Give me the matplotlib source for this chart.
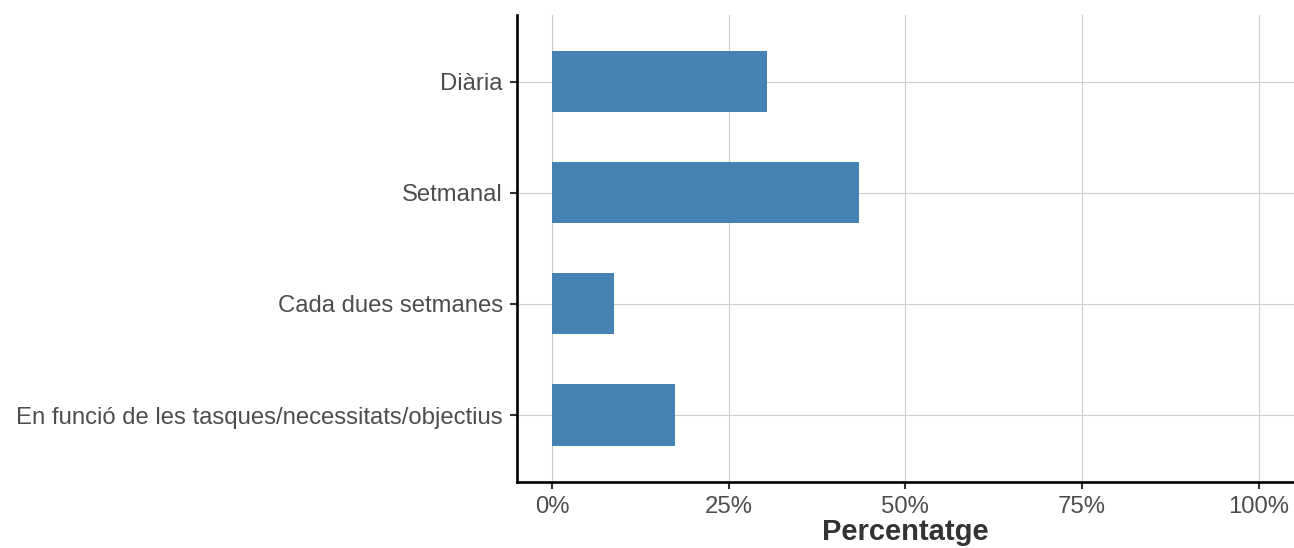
import matplotlib
matplotlib.use("Agg")
from matplotlib import pyplot as plt
from matplotlib.ticker import FuncFormatter
import numpy as np

# Data
categories = ["Diària", "Setmanal", "Cada dues setmanes",
              "En funció de les tasques/necessitats/objectius"]
percentages = [30.4, 43.5, 8.7, 17.4]
x_ticks = [0, 25, 50, 75, 100]

plt.rcParams['font.family'] = ['Liberation Sans', 'DejaVu Sans']

fig = plt.figure(figsize=(12.94, 5.48), dpi=100)
ax = fig.add_axes([0.3993, 0.121, 0.6007, 0.8516])

# categories top to bottom
ypos = np.arange(len(categories))[::-1] + 1
ax.barh(ypos, percentages, height=0.55, color='#4682b4', zorder=3)

ax.set_xlim(-5, 105)
ax.set_ylim(0.4, len(categories) + 0.6)
ax.set_xticks(x_ticks)
ax.xaxis.set_major_formatter(FuncFormatter(lambda v, p: f"{v:.0f}%"))
ax.set_yticks(ypos)
ax.set_yticklabels(categories)

ax.grid(True, color='#cccccc', linewidth=0.8, zorder=0)
for side in ['top', 'right']:
    ax.spines[side].set_visible(False)
for side in ['left', 'bottom']:
    ax.spines[side].set_linewidth(1.9)
    ax.spines[side].set_color('black')

ax.tick_params(axis='both', length=5, width=1.5, color='#333333',
               labelsize=17.2, labelcolor='#4d4d4d')
ax.tick_params(axis='y', pad=5)
ax.tick_params(axis='x', pad=5)

ax.set_xlabel("Percentatge", fontsize=21, fontweight='bold',
              color='#333333', labelpad=0)

fig.savefig("out.png", dpi=100)
